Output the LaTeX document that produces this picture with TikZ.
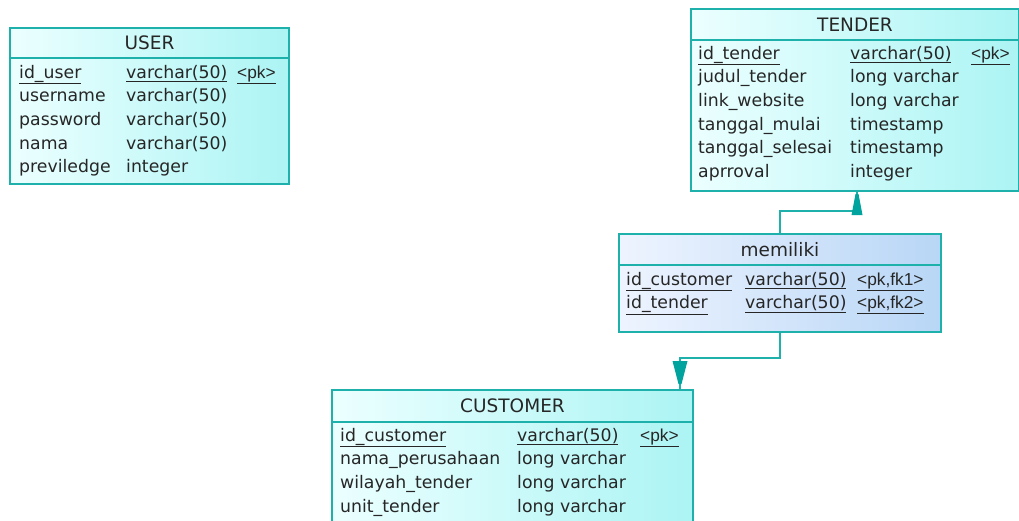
\documentclass[tikz,border=0pt]{standalone}
\usepackage{fontspec}
\usepackage{array}
\setmainfont{DejaVu Sans}
\newfontfamily\keyfont{Liberation Sans}
\usetikzlibrary{calc}

\definecolor{tblline}{RGB}{30,176,170}
\definecolor{tbllight}{RGB}{236,255,255}
\definecolor{tbldark}{RGB}{172,244,244}
\definecolor{memlight}{RGB}{238,244,255}
\definecolor{memdark}{RGB}{184,214,246}
\definecolor{tipfill}{RGB}{0,163,158}

\begin{document}
\begin{tikzpicture}[x=1pt, y=-1pt,
    tbl/.style={draw=tblline, line width=2pt, left color=tbllight, right color=tbldark,
      inner sep=0pt, anchor=north west},
    memtbl/.style={tbl, left color=memlight, right color=memdark},
    title/.style={font=\fontsize{18.5}{22}\selectfont, text=black!85},
    rows/.style={anchor=base west, inner sep=0pt, text=black!85,
      font=\fontsize{17.3}{23.7}\selectfont},
    link/.style={draw=tblline, line width=2pt},
    reftip/.style={fill=tipfill}]

  \useasboundingbox (0,0) rectangle (1019,520);
  \clip (0,0) rectangle (1019,520);

  % USER
  \node[tbl, title, minimum width=279pt, minimum height=30pt] (userhead) at (9,27) {USER};
  \node[tbl, minimum width=279pt, minimum height=126pt] (user) at (9,57) {};
  \node[rows] (userrows) at (19,78) {\begin{tabular}[t]{@{}p{107pt}@{}p{111pt}@{}>{\keyfont}l@{}}
    \underline{id\_user} & \underline{varchar(50)} & \underline{<pk>}\\
    username & varchar(50) & \\
    password & varchar(50) & \\
    nama & varchar(50) & \\
    previledge & integer &
  \end{tabular}};

  % TENDER
  \node[tbl, title, minimum width=328pt, minimum height=31pt] (tenderhead) at (690,8) {TENDER};
  \node[tbl, minimum width=328pt, minimum height=151pt] (tender) at (690,39) {};
  \node[rows] (tenderrows) at (698,59) {\begin{tabular}[t]{@{}p{152pt}@{}p{121pt}@{}>{\keyfont}l@{}}
    \underline{id\_tender} & \underline{varchar(50)} & \underline{<pk>}\\
    judul\_tender & long varchar & \\
    link\_website & long varchar & \\
    tanggal\_mulai & timestamp & \\
    tanggal\_selesai & timestamp & \\
    aprroval & integer &
  \end{tabular}};

  % memiliki
  \node[memtbl, title, minimum width=322pt, minimum height=31pt] (memilikihead) at (618,233) {memiliki};
  \node[memtbl, minimum width=322pt, minimum height=67pt] (memiliki) at (618,264) {};
  \node[rows] (memilikirows) at (626,285) {\begin{tabular}[t]{@{}p{119pt}@{}p{112pt}@{}>{\keyfont}l@{}}
    \underline{id\_customer} & \underline{varchar(50)} & \underline{<pk,fk1>}\\
    \underline{id\_tender} & \underline{varchar(50)} & \underline{<pk,fk2>}
  \end{tabular}};

  % CUSTOMER
  \node[tbl, title, minimum width=361pt, minimum height=32pt] (customerhead) at (331,389) {CUSTOMER};
  \node[tbl, minimum width=361pt, minimum height=140pt] (customer) at (331,421) {};
  \node[rows] (customerrows) at (340,441) {\begin{tabular}[t]{@{}p{177pt}@{}p{123pt}@{}>{\keyfont}l@{}}
    \underline{id\_customer} & \underline{varchar(50)} & \underline{<pk>}\\
    nama\_perusahaan & long varchar & \\
    wilayah\_tender & long varchar & \\
    unit\_tender & long varchar &
  \end{tabular}};

  % References
  \coordinate (tjoin) at (857,211);
  \coordinate (cjoin) at (680,358);
  \draw[link] (memilikihead.north) |- (tjoin) -- (tjoin |- tender.south);
  \draw[link] (memiliki.south) |- (cjoin) -- (cjoin |- customerhead.north);

  \fill[reftip] ($(tjoin)+(-5.5,4)$) -- ($(tjoin)+(5.5,4)$)
    -- ($(tjoin)+(1.5,-17)$) -- ($(tjoin)+(-1.5,-17)$) -- cycle;
  \fill[reftip] ($(cjoin)+(-7.5,3)$) -- ($(cjoin)+(7.5,3)$)
    -- ($(cjoin)+(1.5,26)$) -- ($(cjoin)+(-1.5,26)$) -- cycle;

\end{tikzpicture}
\end{document}
